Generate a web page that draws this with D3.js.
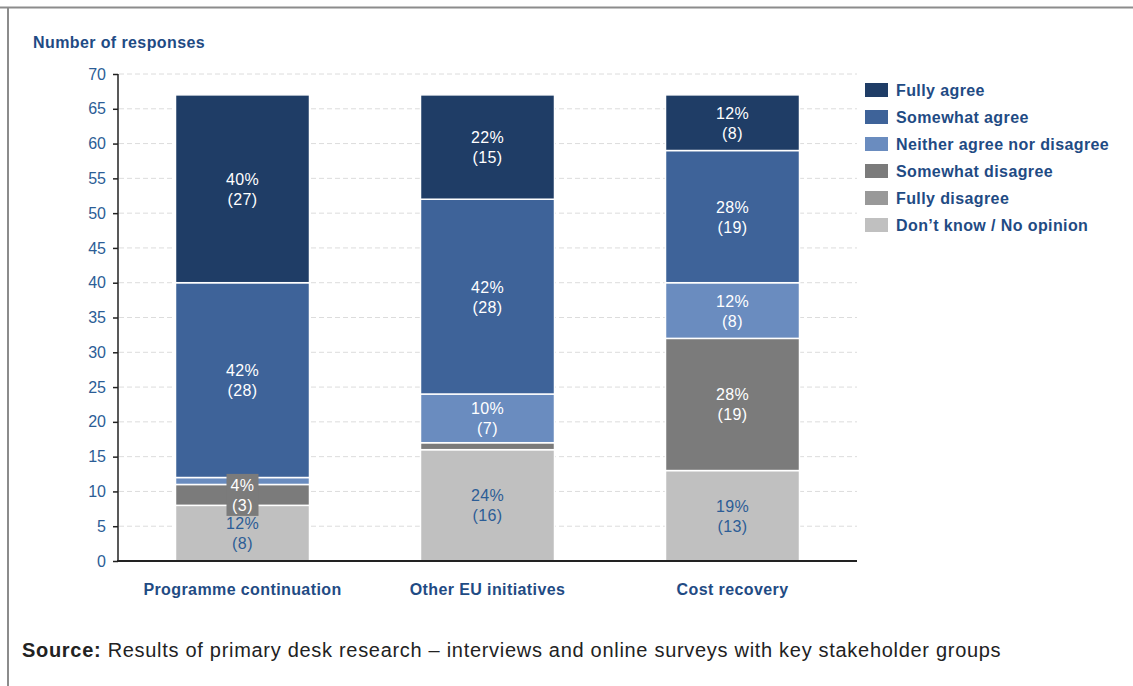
<!DOCTYPE html>
<html><head><meta charset="utf-8">
<script src="https://cdn.jsdelivr.net/npm/d3@7"></script>
<style>body{margin:0;background:#fff;}svg{display:block;}</style>
</head><body>
<svg id="c" width="1133" height="686"></svg>
<script>
const categories = ["Programme continuation", "Other EU initiatives", "Cost recovery"];
const seriesNames = ["Don\u2019t know / No opinion", "Fully disagree", "Somewhat disagree", "Neither agree nor disagree", "Somewhat agree", "Fully agree"];
const dontKnow = [8, 16, 13];
const fullyDisagree = [0, 0, 0];
const somewhatDisagree = [3, 1, 19];
const neither = [1, 7, 8];
const somewhatAgree = [28, 28, 19];
const fullyAgree = [27, 15, 8];
const yTicks = [0, 5, 10, 15, 20, 25, 30, 35, 40, 45, 50, 55, 60, 65, 70];
const legendOrder = ["Fully agree", "Somewhat agree", "Neither agree nor disagree", "Somewhat disagree", "Fully disagree", "Don\u2019t know / No opinion"];

const colors = {
  "Fully agree": "#1f3d66",
  "Somewhat agree": "#3e6399",
  "Neither agree nor disagree": "#6a8cbf",
  "Somewhat disagree": "#7b7b7b",
  "Fully disagree": "#999999",
  "Don\u2019t know / No opinion": "#c0c0c0"
};
const seriesValues = [dontKnow, fullyDisagree, somewhatDisagree, neither, somewhatAgree, fullyAgree];
const rows = categories.map((c, i) => {
  const r = {cat: c};
  seriesNames.forEach((s, j) => r[s] = seriesValues[j][i]);
  return r;
});
const stack = d3.stack().keys(seriesNames)(rows);

const svg = d3.select("#c");
const font = "Liberation Sans, Arial, sans-serif";
const blue = "#2c5d96";
const darkBlue = "#1f4b84";

// frame
svg.append("line").attr("x1", 0).attr("x2", 1133).attr("y1", 7.5).attr("y2", 7.5).attr("stroke", "#8c8c8c").attr("stroke-width", 2);
svg.append("line").attr("x1", 8).attr("x2", 8).attr("y1", 7).attr("y2", 686).attr("stroke", "#8c8c8c").attr("stroke-width", 2);

const y = d3.scaleLinear().domain([0, 70]).range([561, 74]);
const x = d3.scaleBand().domain(categories).range([120, 855]).paddingInner(0.453).paddingOuter(0.2265);

// gridlines
svg.append("g").selectAll("line").data(yTicks.filter(t => t > 0)).join("line")
  .attr("x1", 119).attr("x2", 857).attr("y1", d => y(d)).attr("y2", d => y(d))
  .attr("stroke", "#dcdcdc").attr("stroke-dasharray", "5,3").attr("stroke-width", 1);

// bars
const g = svg.append("g");
stack.forEach(layer => {
  g.selectAll(null).data(layer.filter(d => d[1] - d[0] > 0)).join("rect")
    .attr("x", d => x(d.data.cat))
    .attr("width", x.bandwidth())
    .attr("y", d => y(d[1]))
    .attr("height", d => y(d[0]) - y(d[1]))
    .attr("fill", colors[layer.key])
    .attr("stroke", "#fff").attr("stroke-width", 1.5);
});

// labels
stack.forEach(layer => {
  layer.forEach(d => {
    const v = d[1] - d[0];
    if (v < 2) return;
    const total = seriesNames.reduce((a, s) => a + d.data[s], 0);
    const pct = Math.round(v / total * 100);
    const cx = x(d.data.cat) + x.bandwidth() / 2;
    const cy = y((d[0] + d[1]) / 2);
    const isLight = layer.key === "Don\u2019t know / No opinion";
    const col = isLight ? blue : "#ffffff";
    if (v < 4) {
      svg.append("rect").attr("x", cx - 16).attr("y", cy - 21).attr("width", 32).attr("height", 42)
        .attr("fill", colors[layer.key]);
    }
    const t = svg.append("text").attr("text-anchor", "middle").attr("font-family", font)
      .attr("font-size", 16).attr("letter-spacing", 0.4).attr("fill", col);
    t.append("tspan").attr("x", cx).attr("y", cy - 4).text(pct + "%");
    t.append("tspan").attr("x", cx).attr("y", cy + 16).text("(" + v + ")");
  });
});

// y axis
const ya = svg.append("g").attr("transform", "translate(118,0)")
  .call(d3.axisLeft(y).tickValues(yTicks).tickSize(5).tickPadding(7));
ya.select(".domain").attr("stroke", "#222").attr("stroke-width", 1.5).attr("d", `M-0,${y(70)}V${y(0)}`);
ya.selectAll(".tick line").attr("stroke", "#222").attr("stroke-width", 1.5);
ya.selectAll(".tick text").attr("font-family", font).attr("font-size", 16).attr("fill", blue);

// x axis
svg.append("line").attr("x1", 117).attr("x2", 857).attr("y1", 561).attr("y2", 561).attr("stroke", "#222").attr("stroke-width", 2);
svg.append("g").selectAll("text").data(categories).join("text")
  .attr("x", d => x(d) + x.bandwidth() / 2).attr("y", 595)
  .attr("text-anchor", "middle").attr("font-family", font).attr("font-weight", "bold")
  .attr("font-size", 16).attr("letter-spacing", 0.4).attr("fill", darkBlue).text(d => d);

// title
svg.append("text").attr("x", 33).attr("y", 48).attr("font-family", font).attr("font-weight", "bold")
  .attr("font-size", 16).attr("letter-spacing", 0.4).attr("fill", darkBlue).text("Number of responses");

// legend
const lg = svg.append("g").selectAll("g").data(legendOrder).join("g")
  .attr("transform", (d, i) => `translate(865,${83 + i * 27})`);
lg.append("rect").attr("width", 23).attr("height", 14).attr("fill", d => colors[d]);
lg.append("text").attr("x", 31).attr("y", 13).attr("font-family", font).attr("font-weight", "bold")
  .attr("font-size", 16).attr("letter-spacing", 0.4).attr("fill", darkBlue).text(d => d);

// source
const s = svg.append("text").attr("x", 22).attr("y", 657).attr("font-family", font).attr("font-size", 20)
  .attr("letter-spacing", 0.7).attr("fill", "#222");
s.append("tspan").attr("font-weight", "bold").text("Source:");
s.append("tspan").text(" Results of primary desk research \u2013 interviews and online surveys with key stakeholder groups");
</script>
</body></html>
